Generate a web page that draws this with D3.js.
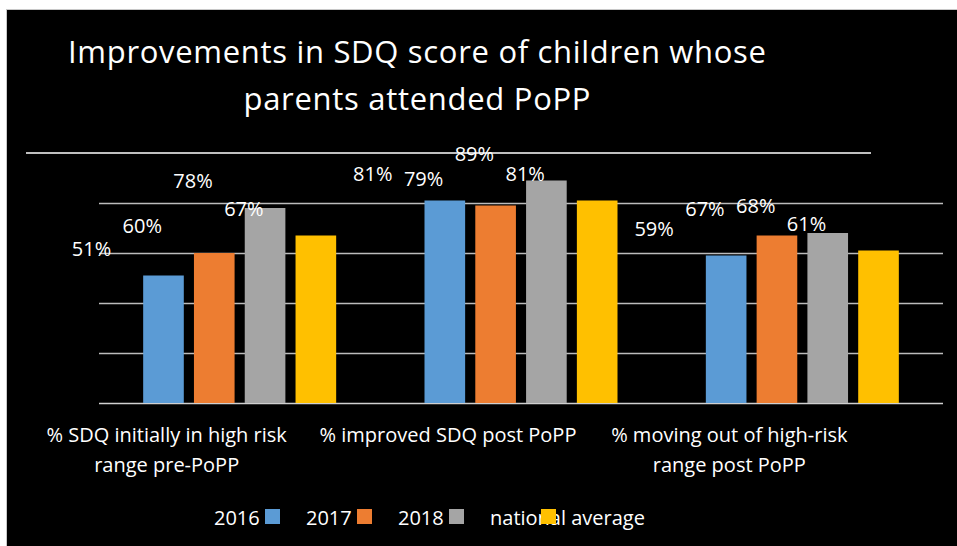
<!DOCTYPE html>
<html><head><meta charset="utf-8">
<script src="https://cdn.jsdelivr.net/npm/d3@7"></script>
<style>
html,body{margin:0;padding:0;background:#fff;}
svg{display:block;}
text{font-family:"Open Sans", Lato, sans-serif;fill:#fff;}
</style></head>
<body>
<svg id="c" width="957" height="546"></svg>
<script>
const categories = [
  ["% SDQ initially in high risk", "range pre-PoPP"],
  ["% improved SDQ post PoPP"],
  ["% moving out of high-risk", "range post PoPP"]
];
const series = ["2016", "2017", "2018", "national average"];
const colors = ["#5B9BD5", "#ED7D31", "#A5A5A5", "#FFC000"];
const values2016 = [51, 81, 59];
const values2017 = [60, 79, 67];
const values2018 = [78, 89, 68];
const valuesNational = [67, 81, 61];
const gridTicks = [0, 20, 40, 60, 80];
const titleLines = ["Improvements in SDQ score of children whose", "parents attended PoPP"];

const allValues = [values2016, values2017, values2018, valuesNational];
const svg = d3.select("#c");

// background frame
svg.append("rect").attr("x", 0).attr("y", 0).attr("width", 957).attr("height", 546).attr("fill", "#fff");
svg.append("rect").attr("x", 6.5).attr("y", 9.5).attr("width", 951).attr("height", 537)
  .attr("fill", "#000").attr("stroke", "#c8c8c8").attr("stroke-width", 1);

const plot = {left: 99, right: 943, top: 153, bottom: 403};
const y = d3.scaleLinear().domain([0, 100]).range([plot.bottom, plot.top]);
const x0 = d3.scaleBand().domain(d3.range(categories.length)).range([plot.left, plot.right]);
const bw = x0.bandwidth();
const x1 = d3.scaleBand().domain(series).range([bw / 2 - 96.5, bw / 2 + 96.5]).paddingInner(0.2);

// gridlines
const yAxis = d3.axisLeft(y).tickValues(gridTicks).tickSize(-(plot.right - plot.left)).tickFormat("");
const g = svg.append("g").attr("transform", `translate(${plot.left},0)`).call(yAxis);
g.select(".domain").remove();
g.selectAll(".tick line").attr("stroke", d => d === 0 ? "#d0d0d0" : "#bcbcbc").attr("stroke-width", 1.5);

// top white line
svg.append("line").attr("x1", 26).attr("x2", 871).attr("y1", y(100)).attr("y2", y(100))
  .attr("stroke", "#fff").attr("stroke-width", 1.5);

// title
const titleWidths = [698, 347];
titleLines.forEach((t, i) => {
  svg.append("text").attr("text-anchor", "middle").style("font-size", "31px")
    .attr("x", 417).attr("y", 63 + i * 47)
    .attr("textLength", titleWidths[i]).attr("lengthAdjust", "spacing")
    .text(t);
});

// bars
const offset = -72;
series.forEach((s, si) => {
  const vals = allValues[si];
  svg.append("g").selectAll("rect").data(vals).join("rect")
    .attr("x", (d, i) => x0(i) + x1(s))
    .attr("y", d => y(d))
    .attr("width", x1.bandwidth())
    .attr("height", d => y(0) - y(d))
    .attr("fill", colors[si]);
  svg.append("g").selectAll("text").data(vals).join("text")
    .attr("x", (d, i) => x0(i) + x1(s) + x1.bandwidth() / 2 + offset)
    .attr("y", d => y(d) - 20)
    .attr("text-anchor", "middle")
    .style("font-size", "20px")
    .text(d => d + "%");
});

// category labels
categories.forEach((lines, i) => {
  const t = svg.append("text").attr("text-anchor", "middle").style("font-size", "20px");
  lines.forEach((l, li) => {
    t.append("tspan").attr("x", x0(i) + bw / 2 - 73).attr("y", 442 + li * 30).text(l);
  });
});

// legend
const legend = svg.append("g");
series.forEach((s, si) => {
  const sx = 265 + si * 92;
  legend.append("text").attr("x", sx - 51).attr("y", 525).style("font-size", "20px").text(s);
  legend.append("rect").attr("x", sx).attr("y", 509).attr("width", 15).attr("height", 15).attr("fill", colors[si]);
});
</script>
</body></html>
